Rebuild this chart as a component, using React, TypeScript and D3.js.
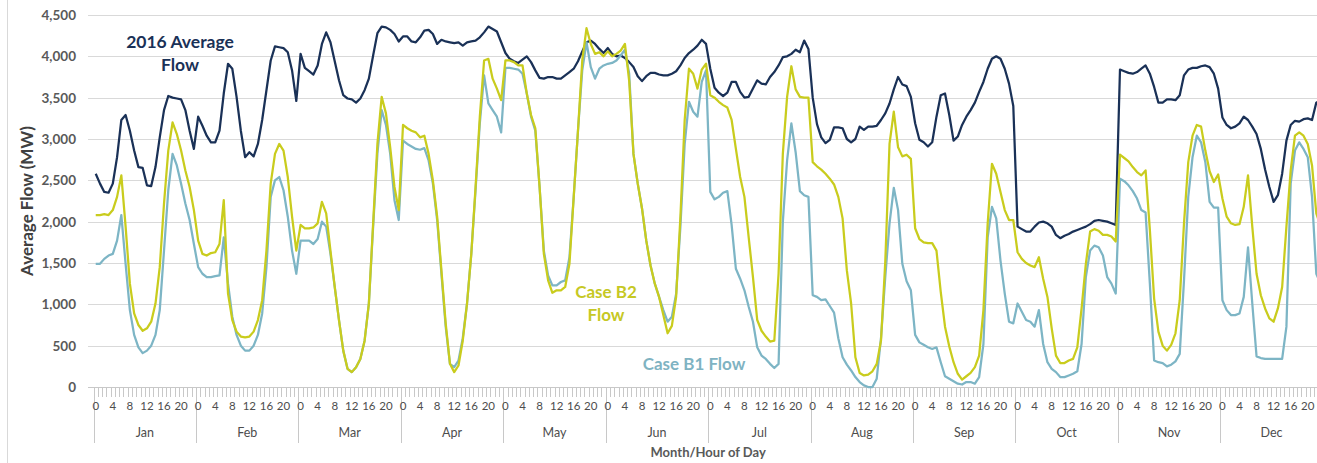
import React, { useEffect, useRef } from "react";
import * as d3 from "d3";

const months = ["Jan", "Feb", "Mar", "Apr", "May", "Jun", "Jul", "Aug", "Sep", "Oct", "Nov", "Dec"];
const hours = [0, 1, 2, 3, 4, 5, 6, 7, 8, 9, 10, 11, 12, 13, 14, 15, 16, 17, 18, 19, 20, 21, 22, 23];
const hourLabels = [0, 4, 8, 12, 16, 20];
const yTicks = [0, 500, 1000, 1500, 2000, 2500, 3000, 3500, 4000, 4500];

// 2016 average flow (MW), one row per month, hours 0-23
const avg2016 = [
  [2580, 2460, 2360, 2350, 2460, 2780, 3230, 3290, 3100, 2860, 2660, 2650, 2440, 2430, 2660, 3020, 3350, 3520, 3500, 3490, 3480, 3350, 3100, 2880],
  [3270, 3160, 3040, 2960, 2960, 3100, 3550, 3910, 3850, 3510, 3100, 2780, 2840, 2790, 2940, 3230, 3590, 3950, 4120, 4110, 4100, 4050, 3830, 3460],
  [4030, 3860, 3820, 3780, 3890, 4150, 4290, 4170, 3940, 3710, 3530, 3490, 3480, 3440, 3490, 3590, 3730, 4010, 4280, 4360, 4350, 4320, 4270, 4180],
  [4240, 4240, 4180, 4170, 4230, 4310, 4320, 4270, 4150, 4200, 4180, 4170, 4160, 4170, 4130, 4170, 4180, 4190, 4230, 4290, 4360, 4330, 4300, 4170],
  [4040, 3970, 3940, 3920, 3960, 4000, 3930, 3830, 3740, 3730, 3750, 3750, 3730, 3730, 3770, 3810, 3850, 3940, 4060, 4170, 4190, 4150, 4090, 4040],
  [4100, 4030, 4000, 4010, 3980, 3930, 3870, 3760, 3700, 3760, 3800, 3800, 3780, 3770, 3770, 3790, 3820, 3890, 3980, 4040, 4080, 4130, 4200, 4150],
  [3850, 3620, 3560, 3520, 3560, 3690, 3690, 3570, 3500, 3510, 3610, 3710, 3670, 3660, 3750, 3810, 3890, 3990, 4000, 4030, 4080, 4050, 4190, 4090],
  [3500, 3180, 3020, 2950, 2990, 3140, 3140, 3130, 3000, 2960, 3000, 3150, 3110, 3150, 3150, 3160, 3230, 3310, 3430, 3600, 3750, 3660, 3640, 3510],
  [3190, 2990, 2960, 2910, 2960, 3270, 3530, 3550, 3290, 2980, 3030, 3170, 3270, 3350, 3440, 3570, 3690, 3850, 3970, 4000, 3970, 3850, 3670, 3400],
  [1940, 1910, 1880, 1880, 1940, 1990, 2000, 1980, 1940, 1840, 1800, 1830, 1850, 1880, 1900, 1920, 1940, 1970, 2010, 2020, 2010, 2000, 1980, 1960],
  [3840, 3820, 3800, 3790, 3810, 3850, 3890, 3790, 3630, 3440, 3440, 3480, 3480, 3470, 3530, 3770, 3840, 3860, 3860, 3880, 3890, 3870, 3790, 3610],
  [3260, 3170, 3130, 3150, 3190, 3270, 3230, 3150, 3060, 2880, 2630, 2420, 2240, 2320, 2580, 2980, 3170, 3220, 3210, 3240, 3250, 3230, 3440, 3470],
];

// Case B1 flow (MW)
const caseB1 = [
  [1490, 1490, 1550, 1590, 1610, 1770, 2080, 1490, 930, 630, 480, 410, 440, 500, 630, 930, 1650, 2380, 2820, 2680, 2460, 2220, 2020, 1730],
  [1450, 1370, 1330, 1330, 1340, 1350, 1810, 1250, 850, 630, 500, 440, 440, 500, 630, 890, 1450, 2300, 2500, 2540, 2380, 2060, 1650, 1370],
  [1770, 1770, 1770, 1730, 1790, 2000, 1940, 1610, 1210, 810, 440, 220, 180, 240, 340, 560, 1010, 1940, 2820, 3350, 3170, 2820, 2260, 2020],
  [2980, 2940, 2910, 2880, 2870, 2890, 2740, 2460, 2020, 1370, 730, 280, 240, 320, 590, 1010, 1610, 2380, 3190, 3770, 3430, 3350, 3270, 3080],
  [3860, 3860, 3850, 3840, 3790, 3550, 3270, 3100, 2420, 1650, 1350, 1230, 1230, 1270, 1290, 1570, 2300, 3100, 3830, 4170, 3870, 3730, 3850, 3890],
  [3910, 3920, 3950, 4010, 4080, 3790, 2820, 2460, 2160, 1770, 1470, 1250, 1090, 930, 790, 850, 1130, 1940, 2940, 3450, 3330, 3270, 3690, 3830],
  [2360, 2270, 2300, 2350, 2370, 1960, 1430, 1310, 1170, 970, 790, 480, 380, 340, 280, 230, 280, 2000, 2740, 3190, 2840, 2370, 2320, 2300],
  [1110, 1090, 1050, 1060, 980, 900, 590, 360, 270, 200, 120, 60, 20, 0, 0, 100, 590, 1330, 1980, 2410, 2140, 1490, 1280, 1170],
  [630, 540, 510, 480, 460, 480, 300, 130, 100, 70, 40, 30, 60, 60, 40, 120, 520, 1810, 2180, 2040, 1530, 1130, 790, 770],
  [1010, 910, 810, 790, 730, 930, 520, 300, 220, 180, 120, 120, 140, 160, 190, 520, 1330, 1650, 1710, 1690, 1590, 1330, 1250, 1130],
  [2520, 2490, 2440, 2370, 2280, 2140, 2110, 1250, 320, 300, 290, 250, 270, 310, 400, 1290, 2300, 2780, 3040, 2960, 2720, 2240, 2170, 2170],
  [1050, 930, 870, 870, 890, 1090, 1690, 1010, 370, 350, 340, 340, 340, 340, 340, 730, 2460, 2860, 2960, 2880, 2780, 2300, 1370, 1250],
];

// Case B2 flow (MW)
const caseB2 = [
  [2080, 2080, 2090, 2080, 2140, 2300, 2560, 1940, 1250, 890, 750, 680, 710, 790, 1010, 1450, 2220, 2860, 3200, 3060, 2860, 2620, 2420, 2140],
  [1770, 1610, 1590, 1620, 1630, 1730, 2260, 1130, 810, 670, 610, 600, 610, 670, 810, 1050, 1650, 2460, 2820, 2940, 2860, 2540, 2060, 1650],
  [1960, 1920, 1920, 1930, 1980, 2240, 2100, 1650, 1210, 810, 440, 220, 180, 240, 340, 560, 1010, 1980, 2940, 3510, 3310, 2900, 2420, 2140],
  [3170, 3130, 3100, 3080, 3020, 3040, 2820, 2500, 2060, 1410, 770, 280, 180, 260, 560, 1010, 1610, 2420, 3270, 3950, 3970, 3730, 3610, 3470],
  [3950, 3950, 3930, 3890, 3890, 3550, 3290, 3130, 2420, 1610, 1290, 1140, 1170, 1170, 1210, 1490, 2300, 3100, 3950, 4340, 4150, 4030, 4050, 4000],
  [4060, 4000, 4030, 4070, 4150, 3700, 2820, 2460, 2160, 1770, 1470, 1250, 1090, 870, 650, 740, 1090, 2060, 3230, 3850, 3790, 3610, 3840, 3910],
  [3530, 3500, 3450, 3410, 3380, 3230, 2880, 2540, 2300, 1810, 1330, 810, 680, 610, 550, 560, 1370, 2820, 3510, 3880, 3600, 3510, 3500, 3500],
  [2720, 2670, 2630, 2580, 2520, 2450, 2300, 2040, 1410, 1010, 360, 170, 140, 150, 190, 280, 560, 1510, 2940, 3330, 2900, 2790, 2810, 2760],
  [1920, 1790, 1750, 1740, 1740, 1650, 1150, 730, 490, 300, 160, 90, 130, 170, 240, 380, 930, 1980, 2700, 2580, 2360, 2140, 2020, 2020],
  [1630, 1550, 1500, 1470, 1450, 1570, 1310, 1090, 710, 380, 290, 290, 320, 340, 480, 950, 1490, 1880, 1910, 1890, 1840, 1840, 1820, 1760],
  [2810, 2770, 2730, 2660, 2600, 2560, 2620, 1900, 1070, 670, 500, 440, 510, 650, 1050, 1980, 2720, 3040, 3170, 3150, 2860, 2610, 2480, 2570],
  [2280, 2060, 1980, 1960, 1970, 2180, 2560, 1940, 1370, 1110, 950, 830, 790, 950, 1210, 1940, 2620, 3040, 3080, 3040, 2940, 2680, 2100, 1950],
];

const NAVY = "#1a3157";
const TEAL = "#7db5c5";
const YELLOW = "#c9cc1d";
const FONT = "Lato, 'Open Sans', sans-serif";

export default function App() {
  const ref = useRef<SVGSVGElement>(null);

  useEffect(() => {
    document.body.style.margin = "0";
    const width = 1317;
    const height = 463;
    const plotLeft = 93.6;
    const plotRight = 1322.7; // plot runs past the right edge of the picture
    const plotTop = 15;
    const plotBottom = 387;

    const svg = d3.select(ref.current).attr("width", width).attr("height", height);
    svg.selectAll("*").remove();

    const keys = months.flatMap((m) => hours.map((h) => `${m}-${h}`));
    const x = d3.scaleBand<string>().domain(keys).range([plotLeft, plotRight]).paddingInner(0).paddingOuter(0);
    const monthScale = d3.scaleBand<string>().domain(months).range([plotLeft, plotRight]);
    const y = d3.scaleLinear().domain([0, 4500]).range([plotBottom, plotTop]);
    const bw = x.bandwidth();

    // chart border on the left
    svg.append("line")
      .attr("x1", 7.5).attr("x2", 7.5).attr("y1", 0).attr("y2", height)
      .attr("stroke", "#d9d9d9");

    // gridlines
    svg.append("g").selectAll("line")
      .data(yTicks)
      .join("line")
      .attr("x1", 88).attr("x2", width)
      .attr("y1", (d) => Math.round(y(d)) + 0.5)
      .attr("y2", (d) => Math.round(y(d)) + 0.5)
      .attr("stroke", (d) => (d === 0 ? "#c8c8c8" : "#d9d9d9"))
      .attr("stroke-width", 1);

    // y labels
    svg.append("g").selectAll("text")
      .data(yTicks)
      .join("text")
      .attr("x", 76)
      .attr("y", (d) => y(d))
      .attr("dy", "0.36em")
      .attr("text-anchor", "end")
      .attr("font-family", FONT)
      .attr("font-size", 13.5)
      .attr("font-weight", 700)
      .attr("fill", "#595959")
      .text((d) => d3.format(",")(d));

    // y title
    svg.append("text")
      .attr("transform", "translate(33, 201) rotate(-90)")
      .attr("text-anchor", "middle")
      .attr("font-family", FONT)
      .attr("font-size", 17)
      .attr("font-weight", 700)
      .attr("fill", "#404040")
      .text("Average Flow (MW)");

    // hour tick marks
    const tickG = svg.append("g");
    keys.forEach((k) => {
      const x0 = Math.round(x(k)!) + 0.5;
      tickG.append("line")
        .attr("x1", x0).attr("x2", x0).attr("y1", plotBottom).attr("y2", 397)
        .attr("stroke", "#c8c8c8");
    });
    // month separators
    svg.append("g").selectAll("line")
      .data(months.concat(["end"]))
      .join("line")
      .attr("x1", (d) => Math.round(d === "end" ? plotRight : monthScale(d)!) + 0.5)
      .attr("x2", (d) => Math.round(d === "end" ? plotRight : monthScale(d)!) + 0.5)
      .attr("y1", plotBottom)
      .attr("y2", 443)
      .attr("stroke", "#c8c8c8");

    // hour labels
    const hourG = svg.append("g")
      .attr("font-family", FONT)
      .attr("font-size", 11.5)
      .attr("fill", "#4d4d4d")
      .attr("text-anchor", "middle");
    months.forEach((m) => {
      hourLabels.forEach((h) => {
        hourG.append("text")
          .attr("x", x(`${m}-${h}`)! + bw / 2)
          .attr("y", 409.5)
          .text(h);
      });
    });

    // month labels
    svg.append("g").selectAll("text")
      .data(months)
      .join("text")
      .attr("x", (d) => monthScale(d)! + monthScale.bandwidth() / 2)
      .attr("y", 437)
      .attr("text-anchor", "middle")
      .attr("font-family", FONT)
      .attr("font-size", 12.5)
      .attr("fill", "#4d4d4d")
      .text((d) => d);

    svg.append("text")
      .attr("x", (plotLeft + plotRight) / 2)
      .attr("y", 457)
      .attr("text-anchor", "middle")
      .attr("font-family", FONT)
      .attr("font-size", 13)
      .attr("font-weight", 700)
      .attr("fill", "#595959")
      .text("Month/Hour of Day");

    // series
    const line = d3.line<number>()
      .x((_, i) => x(keys[i])! + bw / 2)
      .y((d) => y(d));

    const series = [
      { values: avg2016.flat(), color: NAVY },
      { values: caseB1.flat(), color: TEAL },
      { values: caseB2.flat(), color: YELLOW },
    ];
    svg.append("g").selectAll("path")
      .data(series)
      .join("path")
      .attr("d", (d) => line(d.values))
      .attr("fill", "none")
      .attr("stroke", (d) => d.color)
      .attr("stroke-width", 2.25)
      .attr("stroke-linejoin", "round");

    // annotations
    const notes = [
      { lines: ["2016 Average", "Flow"], x: 180, y: 48, color: NAVY, size: 17.5 },
      { lines: ["Case B2", "Flow"], x: 606, y: 298, color: "#c6c824", size: 17 },
      { lines: ["Case B1 Flow"], x: 694, y: 370, color: "#7fb3c2", size: 17 },
    ];
    notes.forEach((n) => {
      n.lines.forEach((t, i) => {
        svg.append("text")
          .attr("x", n.x)
          .attr("y", n.y + i * 23)
          .attr("text-anchor", "middle")
          .attr("font-family", FONT)
          .attr("font-size", n.size)
          .attr("font-weight", 700)
          .attr("fill", n.color)
          .text(t);
      });
    });
  }, []);

  return <svg ref={ref} style={{ display: "block", background: "#fff" }} />;
}
